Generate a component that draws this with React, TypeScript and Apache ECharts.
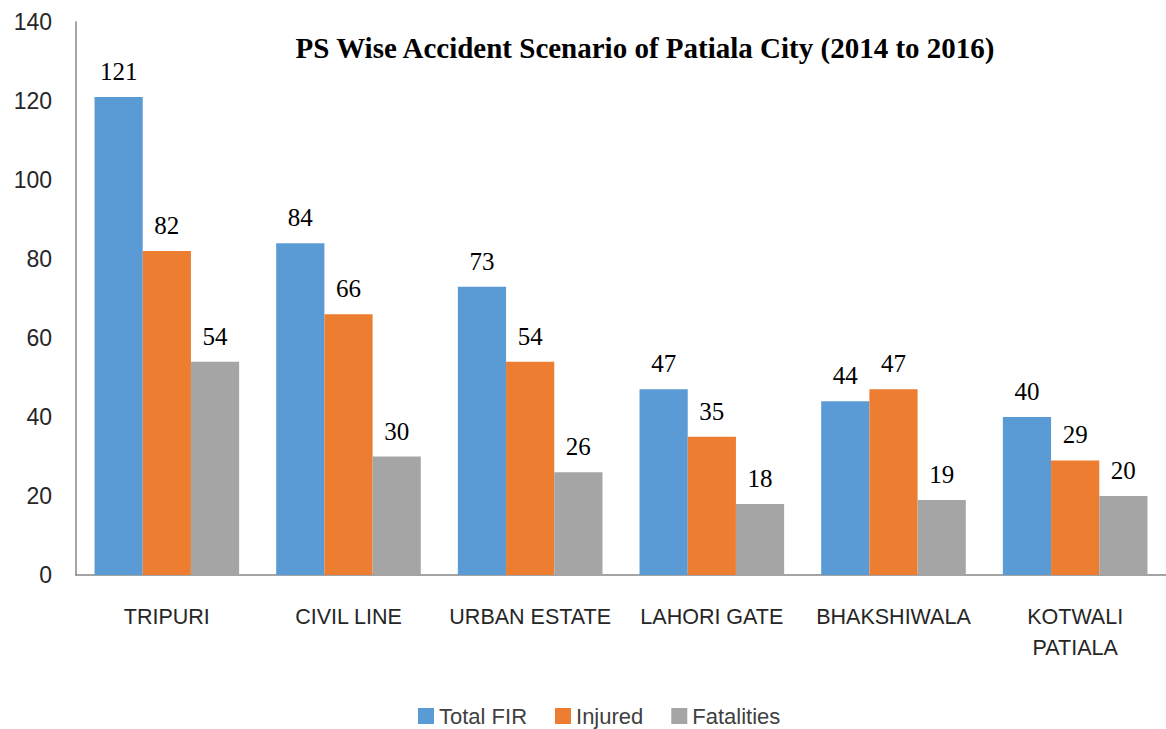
import React, { useEffect, useRef } from "react";
import * as echarts from "echarts";

const categories = ["TRIPURI", "CIVIL LINE", "URBAN ESTATE", "LAHORI GATE", "BHAKSHIWALA", "KOTWALI\nPATIALA"];
const totalFIR = [121, 84, 73, 47, 44, 40];
const injured = [82, 66, 54, 35, 47, 29];
const fatalities = [54, 30, 26, 18, 19, 20];
const seriesNames = ["Total FIR", "Injured", "Fatalities"];
const seriesColors = ["#5B9BD5", "#ED7D31", "#A5A5A5"];
const title = "PS Wise Accident Scenario of Patiala City (2014 to 2016)";

export default function App() {
  const ref = useRef<HTMLDivElement>(null);
  useEffect(() => {
    if (!ref.current) return;
    const chart = echarts.init(ref.current, null, { renderer: "svg" });
    const values = [totalFIR, injured, fatalities];
    chart.setOption({
      animation: false,
      backgroundColor: "#ffffff",
      title: {
        text: title,
        left: 640,
        textAlign: "center",
        top: 28,
        textStyle: {
          fontFamily: "Liberation Serif",
          fontWeight: "bold",
          fontSize: 29,
          color: "#000000",
        },
      },
      legend: {
        left: 413,
        top: 700,
        itemWidth: 16,
        itemHeight: 16,
        itemGap: 28,
        icon: "rect",
        textStyle: { fontFamily: "Liberation Sans", fontSize: 22, color: "#404040" },
        data: seriesNames,
      },
      grid: { left: 76, top: 22, width: 1116, height: 553, containLabel: false },
      xAxis: {
        type: "category",
        data: categories,
        axisLine: { lineStyle: { color: "#868686", width: 1.5 } },
        axisTick: { show: false },
        axisLabel: {
          margin: 26,
          interval: 0,
          fontFamily: "Liberation Sans",
          fontSize: 21.5,
          lineHeight: 31,
          color: "#262626",
        },
      },
      yAxis: {
        type: "value",
        min: 0,
        max: 140,
        interval: 20,
        splitLine: { show: false },
        axisLine: { show: true, lineStyle: { color: "#868686", width: 1.5 } },
        axisTick: { show: false },
        axisLabel: {
          margin: 24,
          fontFamily: "Liberation Sans",
          fontSize: 23,
          color: "#262626",
        },
      },
      series: seriesNames.map((name, i) => ({
        name,
        type: "bar",
        data: values[i],
        barGap: "0%",
        barCategoryGap: "20.4%",
        itemStyle: { color: seriesColors[i] },
        label: {
          show: true,
          position: "top",
          distance: 13,
          fontFamily: "Liberation Serif",
          fontSize: 25,
          color: "#000000",
        },
      })),
    });
    return () => chart.dispose();
  }, []);
  return (
    <div
      ref={ref}
      style={{ position: "fixed", left: 0, top: 0, width: 1166, height: 729, overflow: "hidden" }}
    />
  );
}
